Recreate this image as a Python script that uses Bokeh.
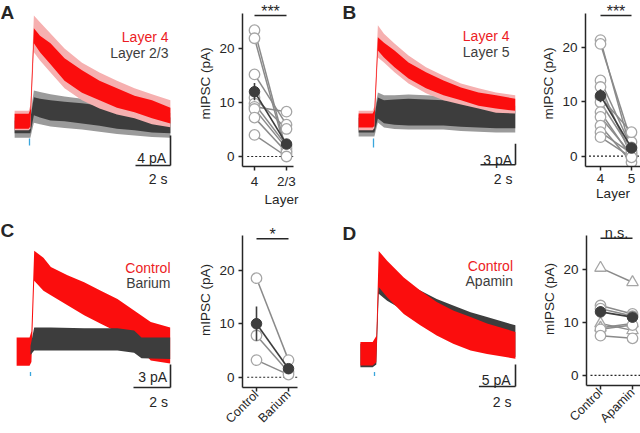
import math
from bokeh.plotting import figure
from bokeh.layouts import row, column
from bokeh.models import Range1d, FixedTicker, Label
from bokeh.embed import file_html
from bokeh.resources import INLINE

FONT = "Liberation Sans"
RED = "#fb0d0d"
RED_TXT = "#ec1c24"
PINK = "#f6b0b0"
DARK = "#3d3d3d"
GREY = "#9b9b9b"
INK = "#262626"
BLUE = "#3aa6dc"

# ---------------- data: averaged / example traces (t in s from stimulus, pA) ----------------
# Panel A: Layer 4 (red) vs Layer 2/3 (dark); envelopes of the noisy traces and SEM shading
tA = [-0.85, -0.05, 0.05, 0.25, 0.6, 1.2, 2, 3, 4, 5, 6, 7, 8.05]
A_red_hi = [0.9, 0.9, 1.5, 12.3, 11.3, 10.3, 8.3, 6.7, 5.3, 4.3, 3.3, 2.7, 1.7]
A_red_lo = [-1.1, -1.1, -0.8, 10.3, 9.1, 7.5, 5.3, 3.7, 2.7, 1.7, 1.1, 0.3, -0.4]
A_pink_hi = [1.3, 1.3, 2.0, 14.0, 13.1, 11.6, 9.6, 7.7, 6.4, 5.3, 4.3, 3.5, 2.7]
A_pink_lo = [-1.3, -1.3, -1.1, 9.1, 8.0, 6.4, 4.3, 2.7, 1.6, 0.8, 0.3, -0.5, -0.9]
A_dark_hi = [0.0, 0.0, 0.3, 3.1, 2.9, 2.7, 2.5, 2.3, 2.0, 1.7, 1.3, 0.9, 0.4]
A_dark_lo = [-1.7, -1.7, -1.7, 0.7, 0.4, 0.0, -0.1, -0.4, -0.7, -1.1, -1.3, -1.6, -1.7]
A_grey_hi = [0.4, 0.4, 0.8, 4.0, 3.8, 3.5, 3.2, 2.9, 2.6, 2.3, 1.9, 1.5, 1.0]
A_grey_lo = [-2.3, -2.3, -2.3, -0.3, -0.5, -0.8, -1.0, -1.2, -1.5, -1.8, -2.0, -2.2, -2.3]
A_names = ["Layer 4", "Layer 2/3"]

# Panel B: Layer 4 (red) vs Layer 5 (dark)
tB = [-0.85, -0.05, 0.05, 0.25, 0.6, 1.2, 2, 3, 4, 5, 6, 7, 8.1]
B_red_hi = [1.0, 1.0, 1.5, 11.9, 11.1, 10.0, 8.3, 6.9, 5.7, 4.7, 4.0, 3.6, 3.1]
B_red_lo = [-1.0, -1.0, -0.8, 10.0, 9.0, 7.6, 6.0, 4.6, 3.6, 2.9, 2.1, 1.7, 1.4]
B_pink_hi = [1.4, 1.4, 2.0, 13.6, 12.4, 11.0, 9.3, 7.6, 6.4, 5.3, 4.6, 4.0, 3.6]
B_pink_lo = [-1.4, -1.4, -1.1, 9.0, 8.3, 6.9, 5.3, 3.9, 2.9, 2.3, 1.7, 1.1, 1.0]
B_dark_hi = [0.4, 0.4, 0.7, 3.3, 2.9, 3.0, 3.1, 3.0, 2.9, 2.7, 2.6, 2.4, 1.4]
B_dark_lo = [-1.7, -1.7, -1.7, 0.3, -0.4, -0.6, -0.7, -0.7, -0.7, -0.9, -1.0, -1.1, -1.1]
B_grey_hi = [0.8, 0.8, 1.2, 4.0, 3.6, 3.6, 3.7, 3.6, 3.5, 3.3, 3.2, 3.0, 2.1]
B_grey_lo = [-2.3, -2.3, -2.3, -0.3, -1.0, -1.2, -1.3, -1.3, -1.3, -1.5, -1.6, -1.7, -1.7]
B_names = ["Layer 4", "Layer 5"]

# Panel C: Control (red) vs Barium (dark), single cell
tC = [-0.75, -0.05, 0.05, 0.2, 0.7, 1.1, 2.0, 2.9, 3.8, 4.7, 5.6, 6.5, 7.55]
C_red_hi = [1.7, 1.7, 2.5, 13.0, 12.1, 10.9, 9.8, 8.9, 7.8, 6.7, 5.2, 3.7, 3.0]
C_red_lo = [-2.0, -2.0, -1.5, 9.1, 7.8, 7.2, 5.9, 4.6, 3.5, 2.4, 1.1, -1.3, -1.7]
tC_dark = [0.0, 0.2, 1.1, 2.9, 4.7, 5.6, 6.0, 7.55]
C_dark_hi = [0.6, 3.0, 3.0, 2.9, 2.9, 2.6, 1.7, 1.7]
C_dark_lo = [-0.6, 0.0, 0.0, 0.0, 0.0, -0.3, -1.0, -1.1]
C_names = ["Control", "Barium"]

# Panel D: Control (red) vs Apamin (dark), single cell
tD = [-0.77, -0.1, 0.1, 0.23, 0.69, 1.6, 2.5, 3.4, 4.3, 5.25, 6.15, 7.7]
D_red_hi = [2.6, 2.6, 4.0, 23.3, 21.1, 17.3, 14.3, 11.7, 9.8, 8.3, 6.8, 4.9]
D_red_lo = [-2.7, -2.7, -2.0, 15.1, 12.8, 9.0, 6.4, 4.1, 2.2, 0.7, -0.1, -1.2]
D_dark_hi = [2.2, 2.2, 3.0, 18.2, 17.8, 16.2, 14.3, 12.4, 10.9, 9.4, 8.3, 6.4]
D_dark_lo = [-3.1, -3.1, -2.5, 13.6, 12.0, 9.8, 7.1, 5.2, 3.3, 1.8, 0.7, -0.8]
D_names = ["Control", "Apamin"]

SCALE_S = 2
SCALE_PA = {"A": 4, "B": 3, "C": 3, "D": 5}

# ---------------- data: paired mIPSC amplitudes (pA) ----------------
A_cats = ["4", "2/3"]
A_first = [23.4, 21.9, 15.2, 10.9, 9.8, 9.2, 8.8, 7.2, 4.0]
A_second = [1.0, 0.4, 5.9, 5.1, 2.0, 8.3, 1.5, 0.8, 0.0]
A_mean = [12.0, 2.3]
A_sem = [1.6, 0.6]

B_cats = ["4", "5"]
B_first = [21.3, 20.6, 13.9, 12.7, 10.8, 9.9, 8.1, 7.2, 5.6, 4.4, 3.5]
B_second = [0.7, 2.6, 1.6, 0.0, 4.4, 1.0, -0.2, 0.3, -1.1, 0.5, -0.2]
B_mean = [11.1, 1.5]
B_sem = [1.2, 0.5]

C_cats = ["Control", "Barium"]
C_first = [18.5, 7.8, 3.2]
C_second = [3.2, 1.0, 0.5]
C_mean = [10.0, 1.6]
C_sem = [3.2, 0.8]

D_cats = ["Control", "Apamin"]
D_first = [13.2, 12.6, 8.7, 7.5]          # circles
D_second = [11.6, 11.2, 9.5, 7.0]
D_first_tri = [20.3, 9.8, 9.0]            # triangles
D_second_tri = [17.6, 8.5, 9.8]
D_mean = [12.0, 11.0]
D_sem = [1.0, 0.8]

SIG = {"A": "***", "B": "***", "C": "*", "D": "n.s."}

# ---------------- layout geometry (pixels) ----------------
COLS = [0, 185, 320, 520, 640]
ROWS = [0, 212, 433]


def box(ci, ri):
    return COLS[ci], ROWS[ri], COLS[ci + 1], ROWS[ri + 1]


def label(p, x, y, text, color=INK, size="13px", align="left", baseline="alphabetic", bold=False):
    p.add_layout(Label(x=x, y=y, text=text, text_color=color, text_font=FONT,
                       text_font_size=size, text_align=align, text_baseline=baseline,
                       text_font_style="bold" if bold else "normal"))


def trace_panel(ci, ri, key, stim_x, px_s, base_y, px_pa, bands, names, letter_xy,
                legend_xy, corner, pa_xy, s_xy, stim_y):
    X0, Y0, X1, Y1 = box(ci, ri)
    tx = lambda X: (X - stim_x) / px_s
    ty = lambda Y: (base_y - Y) / px_pa
    p = figure(width=X1 - X0, height=Y1 - Y0, x_range=Range1d(tx(X0), tx(X1)),
               y_range=Range1d(ty(Y1), ty(Y0)), x_axis_location=None,
               y_axis_location=None, toolbar_location=None, output_backend="svg",
               min_border=0, outline_line_color=None, background_fill_color="white",
               border_fill_color="white", frame_align=False)
    p.grid.visible = False
    for (t, lo, hi, col) in bands:
        p.varea(x=t, y1=lo, y2=hi, fill_color=col, fill_alpha=1.0)
    # stimulus marker
    p.segment(x0=[0], y0=[ty(stim_y[0])], x1=[0], y1=[ty(stim_y[1])],
              line_color=BLUE, line_width=1.3)
    # scale bars
    cx, cy = tx(corner[0]), ty(corner[1])
    p.segment(x0=[cx, cx - SCALE_S], y0=[cy, cy], x1=[cx, cx], y1=[cy + SCALE_PA[key], cy],
              line_color=INK, line_width=1.6)
    label(p, tx(pa_xy[0]), ty(pa_xy[1]), f"{SCALE_PA[key]} pA", align="right", size="14px")
    label(p, tx(s_xy[0]), ty(s_xy[1]), f"{SCALE_S} s", align="right", size="14px")
    # legend
    label(p, tx(legend_xy[0]), ty(legend_xy[1]), names[0], color=RED_TXT, align="right", size="14px")
    label(p, tx(legend_xy[0]), ty(legend_xy[2]), names[1], color=DARK, align="right", size="14px")
    # panel letter
    label(p, tx(letter_xy[0]), ty(letter_xy[1]), key, align="left", baseline="top", size="19px", bold=True)
    return p


def scatter_panel(ci, ri, key, axis_x, bottom_y, top_y, right_x, zero_y, px_pa, cat_x,
                  dot_x0, sig_y, cats, first, second, mean, sem, xlabel=None, rotate=False,
                  first_tri=None, second_tri=None):
    X0, Y0, X1, Y1 = box(ci, ri)
    cxf = lambda X: (X - cat_x[0]) / (cat_x[1] - cat_x[0])
    cyf = lambda Y: (zero_y - Y) / px_pa
    left = axis_x - X0
    bottom = Y1 - bottom_y
    p = figure(width=X1 - X0, height=Y1 - Y0,
               x_range=Range1d(cxf(axis_x), cxf(X1)),
               y_range=Range1d(cyf(bottom_y), cyf(Y0)),
               toolbar_location=None, output_backend="svg",
               min_border_left=left, min_border_bottom=bottom, min_border_top=0,
               min_border_right=0, outline_line_color=None,
               background_fill_color="white", border_fill_color="white", frame_align=False)
    p.grid.visible = False
    for ax in (p.xaxis[0], p.yaxis[0]):
        ax.axis_line_color = INK
        ax.axis_line_width = 1.5
        ax.major_tick_line_color = INK
        ax.major_tick_line_width = 1.5
        ax.major_tick_in = 0
        ax.major_tick_out = 4
        ax.minor_tick_line_color = None
        ax.major_label_text_font = FONT
        ax.major_label_text_font_size = "13.5px"
        ax.major_label_text_color = INK
        ax.axis_label_text_font = FONT
        ax.axis_label_text_font_size = "13.5px"
        ax.axis_label_text_font_style = "normal"
        ax.axis_label_text_color = INK
        ax.major_label_standoff = 4
        ax.axis_label_standoff = 3
    p.xaxis.major_label_standoff = 3
    p.xaxis.axis_label_standoff = 0
    p.yaxis.ticker = FixedTicker(ticks=[0, 10, 20], minor_ticks=[])
    p.yaxis.axis_label = "mIPSC (pA)"
    p.yaxis.bounds = (cyf(bottom_y), cyf(top_y))
    p.xaxis.ticker = FixedTicker(ticks=[0, 1], minor_ticks=[])
    p.xaxis.major_label_overrides = {0: cats[0], 1: cats[1]}
    p.xaxis.bounds = (cxf(axis_x), cxf(right_x))
    if xlabel:
        p.xaxis.axis_label = xlabel
    if rotate:
        p.xaxis.major_label_orientation = math.pi / 4
        p.xaxis.major_label_standoff = 1
        p.xaxis.major_label_text_font_size = "12.5px"

    # zero line
    p.segment(x0=[cxf(dot_x0)], y0=[0], x1=[cxf(right_x)], y1=[0], line_color=INK,
              line_width=1.2, line_dash="2 2")
    # paired lines and open markers
    n = len(first)
    p.segment(x0=[0] * n, y0=first, x1=[1] * n, y1=second, line_color="#8a8a8a", line_width=1.5)
    if first_tri:
        m = len(first_tri)
        p.segment(x0=[0] * m, y0=first_tri, x1=[1] * m, y1=second_tri, line_color="#8a8a8a",
                  line_width=1.5)
        p.scatter(x=[0] * m + [1] * m, y=first_tri + second_tri, marker="triangle", size=11.5,
                  fill_color="white", line_color="#a6a6a6", line_width=1.3)
    p.scatter(x=[0] * n + [1] * n, y=first + second, marker="circle", size=10.5,
              fill_color="white", line_color="#a6a6a6", line_width=1.3)
    # mean +- sem
    p.line(x=[0, 1], y=mean, line_color=DARK, line_width=1.6)
    p.segment(x0=[0, 1], y0=[mean[0] - sem[0], mean[1] - sem[1]], x1=[0, 1],
              y1=[mean[0] + sem[0], mean[1] + sem[1]], line_color=DARK, line_width=1.6)
    p.scatter(x=[0, 1], y=mean, marker="circle", size=10.5, fill_color=DARK, line_color=DARK)
    # significance
    ys = cyf(sig_y)
    p.segment(x0=[0], y0=[ys], x1=[1], y1=[ys], line_color=INK, line_width=1.5)
    txt = SIG[key]
    if "*" in txt:
        label(p, 0.5, cyf(sig_y - 4.5), txt, align="center", size="16px")
    else:
        label(p, 0.5, cyf(sig_y - 5), txt, align="center", size="14.5px")
    return p


pA_ = trace_panel(0, 0, "A", 29, 17.5, 120, 7.5,
                  [(tA, A_grey_lo, A_grey_hi, GREY), (tA, A_dark_lo, A_dark_hi, DARK),
                   (tA, A_pink_lo, A_pink_hi, PINK), (tA, A_red_lo, A_red_hi, RED)],
                  A_names, (0, 1), (168, 36.5, 52), (170, 165), (165.5, 157), (167, 178),
                  (138, 145))
sA = scatter_panel(1, 0, "A", 242, 166, 13, 293, 156, 5.4, (254, 286), 246.7, 15,
                   A_cats, A_first, A_second, A_mean, A_sem, xlabel="Layer")
pB_ = trace_panel(2, 0, "B", 373, 17.5, 120, 7.0,
                  [(tB, B_grey_lo, B_grey_hi, GREY), (tB, B_dark_lo, B_dark_hi, DARK),
                   (tB, B_pink_lo, B_pink_hi, PINK), (tB, B_red_lo, B_red_hi, RED)],
                  B_names, (342, 1), (509, 35.7, 51), (515, 164.3), (511.5, 159), (512, 178.3),
                  (138, 147))
sB = scatter_panel(3, 0, "B", 585, 166, 13, 640, 155.7, 5.45, (600, 631), 588.5, 15,
                   B_cats, B_first, B_second, B_mean, B_sem, xlabel="Layer")
pC_ = trace_panel(0, 1, "C", 30, 18.5, 350, 7.67,
                  [(tC, C_red_lo, C_red_hi, RED), (tC_dark, C_dark_lo, C_dark_hi, DARK)],
                  C_names, (0, 219), (170, 267.3, 282.7), (170, 387), (166.5, 376.7),
                  (167.5, 401.7), (371.5, 375.5))
sC = scatter_panel(1, 1, "C", 242, 388, 235, 297, 377.7, 5.385, (256, 288), 246.7, 238.3,
                   C_cats, C_first, C_second, C_mean, C_sem, rotate=True)
pD_ = trace_panel(2, 1, "D", 374, 18.3, 353, 4.4,
                  [(tD, D_dark_lo, D_dark_hi, DARK), (tD, D_red_lo, D_red_hi, RED)],
                  D_names, (342, 222), (512.5, 265, 280), (515, 386), (510, 379.3),
                  (511, 401.7), (371.5, 375.5))
sD = scatter_panel(3, 1, "D", 586, 388, 235, 640, 377.7, 5.385, (600, 632), 590, 238.3,
                   D_cats, D_first, D_second, D_mean, D_sem, rotate=True,
                   first_tri=D_first_tri, second_tri=D_second_tri)

layout = column(row(pA_, sA, pB_, sB, spacing=0), row(pC_, sC, pD_, sD, spacing=0), spacing=0)
open("out.html", "w").write(file_html(layout, INLINE))
